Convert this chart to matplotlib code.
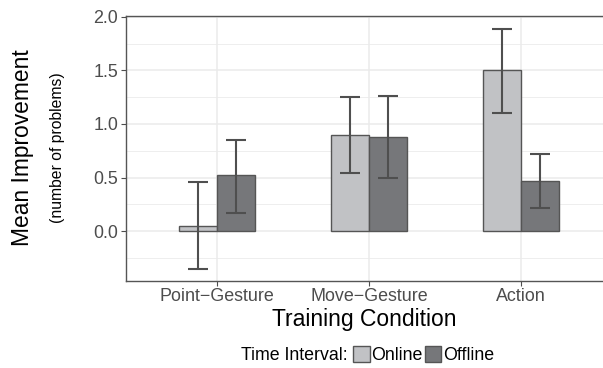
import numpy as np
import matplotlib.pyplot as plt
from matplotlib.patches import Patch

plt.rcParams['font.family'] = ['Liberation Sans', 'DejaVu Sans']

conditions = ['Point\u2212Gesture', 'Move\u2212Gesture', 'Action']
online_mean = [0.05, 0.90, 1.50]
online_lo = [-0.35, 0.54, 1.10]
online_hi = [0.46, 1.25, 1.89]
offline_mean = [0.52, 0.88, 0.47]
offline_lo = [0.17, 0.50, 0.22]
offline_hi = [0.85, 1.26, 0.72]

online_col = '#c1c2c5'
offline_col = '#76777a'
edge_col = '#555555'

fig = plt.figure(figsize=(6.03, 3.68), dpi=100)
ax = fig.add_axes([0.2085, 0.237, 0.7915, 0.72])

x = np.arange(1, len(conditions) + 1)
w = 0.25

# grid, ggplot style
for v in np.arange(-0.25, 2.01, 0.25):
    ax.axhline(v, color='#ebebeb', lw=0.6 if v % 0.5 else 1.1, zorder=0)
for xi in x:
    ax.axvline(xi, color='#ebebeb', lw=1.1, zorder=0)

ax.bar(x - w / 2, online_mean, w, color=online_col, edgecolor=edge_col, lw=1.0, zorder=2)
ax.bar(x + w / 2, offline_mean, w, color=offline_col, edgecolor=edge_col, lw=1.0, zorder=2)

for pos, m, lo, hi in [(x - w / 2, online_mean, online_lo, online_hi),
                       (x + w / 2, offline_mean, offline_lo, offline_hi)]:
    m = np.array(m)
    ax.errorbar(pos, m, yerr=[m - np.array(lo), np.array(hi) - m], fmt='none',
                ecolor='#4f4f4f', elinewidth=1.5, capsize=7.5, capthick=1.5, zorder=3)

ax.set_xlim(0.4, 3.54)
ax.set_ylim(-0.464, 2.01)
ax.set_xticks(x)
ax.set_xticklabels(conditions)
ax.set_yticks([0.0, 0.5, 1.0, 1.5, 2.0])
ax.set_yticklabels(['0.0', '0.5', '1.0', '1.5', '2.0'])
ax.tick_params(colors='#4d4d4d', labelsize=12.9, length=3.5, width=0.8, pad=2)
for s in ['left', 'bottom', 'top']:
    ax.spines[s].set_color('#555555')
    ax.spines[s].set_linewidth(1.0)
ax.spines['right'].set_visible(False)

ax.set_xlabel('Training Condition', fontsize=16.5, labelpad=2)
fig.text(0.037, 0.6, 'Mean Improvement', rotation=90, fontsize=16.4, ha='center', va='center')
fig.text(0.095, 0.6, '(number of problems)', rotation=90, fontsize=11.3, ha='center', va='center')

fig.text(0.577, 0.035, 'Time Interval:', fontsize=12.8, ha='right', va='center')
handles = [Patch(facecolor=online_col, edgecolor=edge_col, label='Online'),
           Patch(facecolor=offline_col, edgecolor=edge_col, label='Offline')]
fig.legend(handles=handles, loc='center left', bbox_to_anchor=(0.585, 0.035), ncol=2,
           frameon=False, fontsize=12.8, handlelength=0.95, handleheight=0.95,
           handletextpad=0.1, columnspacing=0.1, borderpad=0, borderaxespad=0)

fig.savefig('out.png', dpi=100)
